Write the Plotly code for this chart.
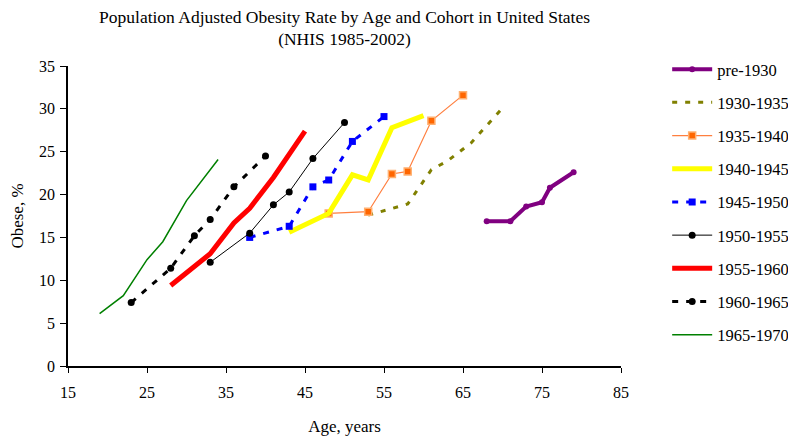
import plotly.graph_objects as go

# Data
cohorts = ["pre-1930", "1930-1935", "1935-1940", "1940-1945", "1945-1950",
           "1950-1955", "1955-1960", "1960-1965", "1965-1970"]

age_pre1930 = [68, 71, 73, 75, 76, 79]
obese_pre1930 = [16.9, 16.9, 18.6, 19.1, 20.8, 22.6]

age_1930 = [53, 58, 61, 63, 66, 70]
obese_1930 = [17.6, 18.9, 22.9, 23.9, 26.0, 30.1]

age_1935 = [48, 53, 56, 58, 61, 65]
obese_1935 = [17.8, 18.0, 22.4, 22.7, 28.6, 31.6]

age_1940 = [43, 48, 51, 53, 56, 60]
obese_1940 = [15.6, 17.8, 22.3, 21.7, 27.8, 29.2]

age_1945 = [38, 43, 46, 48, 51, 55]
obese_1945 = [15.0, 16.3, 20.9, 21.7, 26.2, 29.1]

age_1950 = [33, 38, 41, 43, 46, 50]
obese_1950 = [12.1, 15.5, 18.8, 20.3, 24.2, 28.4]

age_1955 = [28, 33, 36, 38, 41, 45]
obese_1955 = [9.4, 13.1, 16.7, 18.4, 22.0, 27.4]

age_1960 = [23, 28, 31, 33, 36, 40]
obese_1960 = [7.4, 11.4, 15.2, 17.1, 20.9, 24.5]

age_1965 = [19, 22, 25, 27, 30, 34]
obese_1965 = [6.1, 8.2, 12.4, 14.5, 19.3, 24.1]

x_ticks = [15, 25, 35, 45, 55, 65, 75, 85]
y_ticks = [0, 5, 10, 15, 20, 25, 30, 35]

series = [
    (age_pre1930, obese_pre1930, dict(color="#800080", width=4),
     dict(symbol="circle", size=6, color="#800080"), "lines+markers"),
    (age_1930, obese_1930, dict(color="#808000", width=3, dash="5px,8px"),
     None, "lines"),
    (age_1935, obese_1935, dict(color="#FF7F3F", width=1.2),
     dict(symbol="square", size=7, color="#FF6600", line=dict(color="#FFB070", width=1.5)),
     "lines+markers"),
    (age_1940, obese_1940, dict(color="#FFFF00", width=5), None, "lines"),
    (age_1945, obese_1945, dict(color="#0000FF", width=3, dash="6px,8px"),
     dict(symbol="square", size=7, color="#0000FF"), "lines+markers"),
    (age_1950, obese_1950, dict(color="#000000", width=1),
     dict(symbol="circle", size=7, color="#000000"), "lines+markers"),
    (age_1955, obese_1955, dict(color="#FF0000", width=5), None, "lines"),
    (age_1960, obese_1960, dict(color="#000000", width=3, dash="6px,8px"),
     dict(symbol="circle", size=7, color="#000000"), "lines+markers"),
    (age_1965, obese_1965, dict(color="#008000", width=1.5), None, "lines"),
]

fig = go.Figure()
for name, (xs, ys, line, marker, mode) in zip(cohorts, series):
    kw = dict(x=xs, y=ys, name=name, mode=mode, line=line, legendgroup=name)
    if marker:
        kw["marker"] = marker
    fig.add_trace(go.Scatter(**kw))

font_family = "Liberation Serif, Times New Roman, serif"

# The page body has an 8px default margin, so the figure is 8px smaller
# and its margins are shifted to keep the plot where the reference has it.
fig.update_layout(
    width=788, height=429,
    margin=dict(l=60, r=175, t=58, b=71, autoexpand=False),
    paper_bgcolor="white", plot_bgcolor="white",
    font=dict(family=font_family, size=16, color="#000000"),
    title=dict(
        text="Population Adjusted Obesity Rate by Age and Cohort in United States<br>(NHIS 1985-2002)",
        x=336.5 / 788, xanchor="center",
        y=0.966, yanchor="top",
        font=dict(family=font_family, size=17.5),
    ),
    showlegend=True,
    legend=dict(
        x=1.0835, xanchor="left", xref="paper",
        y=1.047, yanchor="top",
        font=dict(family=font_family, size=16.5),
        tracegroupgap=8.75,
        itemwidth=40,
        maxheight=425,
        bgcolor="rgba(0,0,0,0)",
    ),
    xaxis=dict(
        range=[15, 85], tickvals=x_ticks, ticktext=[str(v) for v in x_ticks],
        showgrid=False, zeroline=False, automargin=False,
        showline=True, linecolor="#000000", linewidth=1.5,
        ticks="outside", ticklen=5, tickcolor="#000000",
        ticklabelstandoff=6,
        title=dict(text="Age, years", font=dict(family=font_family, size=17), standoff=20),
        tickfont=dict(family=font_family, size=16),
    ),
    yaxis=dict(
        range=[0, 35], tickvals=y_ticks, ticktext=[str(v) for v in y_ticks],
        showgrid=False, zeroline=False, automargin=False,
        showline=True, linecolor="#000000", linewidth=1.5,
        ticks="outside", ticklen=6, tickcolor="#000000",
        ticklabelstandoff=2,
        title=dict(text="Obese, %", font=dict(family=font_family, size=17), standoff=13),
        tickfont=dict(family=font_family, size=16),
    ),
)

fig.write_html("out.html")
